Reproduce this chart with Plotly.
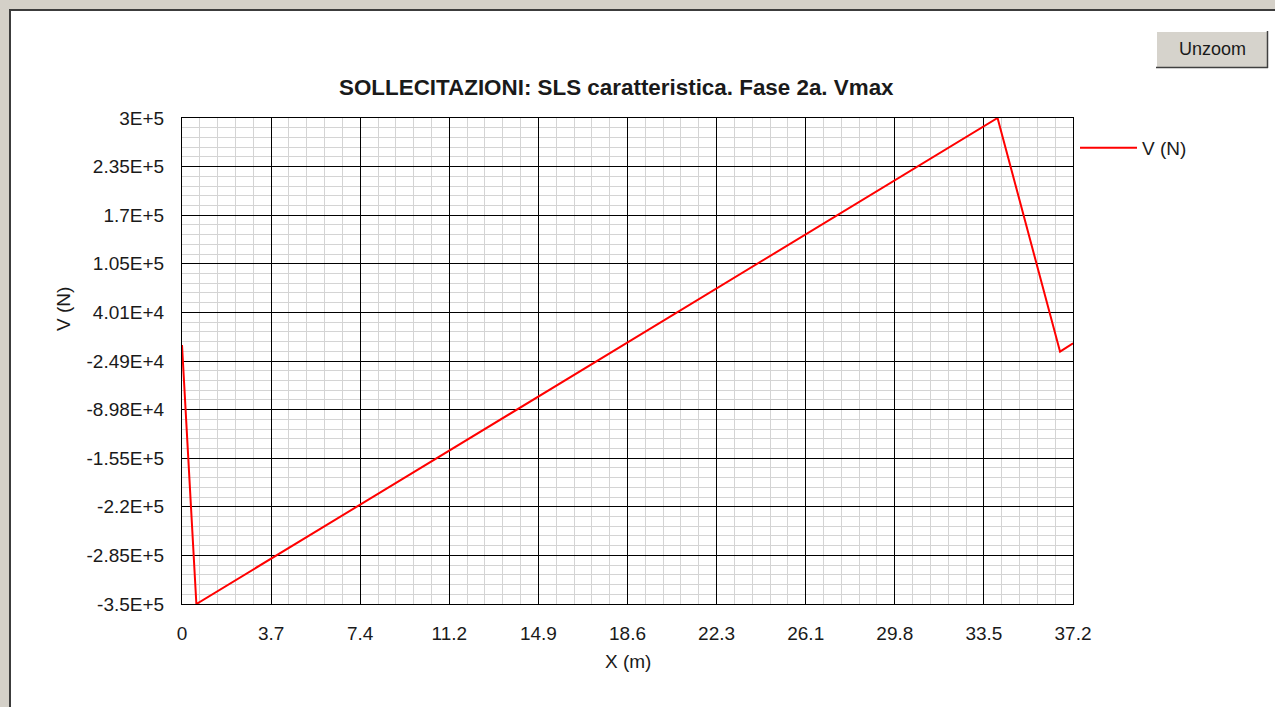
import plotly.graph_objects as go

# ---- data ----
x_m = [0.0, 0.6, 34.05, 36.66, 37.2]
v_n = [-3600, -350000, 300000, -12500, -1300]

x_tickvals = [0, 3.72, 7.44, 11.16, 14.88, 18.6, 22.32, 26.04, 29.76, 33.48, 37.2]
x_ticktext = ["0", "3.7", "7.4", "11.2", "14.9", "18.6", "22.3", "26.1", "29.8", "33.5", "37.2"]
y_tickvals = [-350000, -285000, -220000, -155000, -90000, -25000, 40000, 105000, 170000, 235000, 300000]
y_ticktext = ["-3.5E+5", "-2.85E+5", "-2.2E+5", "-1.55E+5", "-8.98E+4", "-2.49E+4",
              "4.01E+4", "1.05E+5", "1.7E+5", "2.35E+5", "3E+5"]

title_text = "SOLLECITAZIONI: SLS caratteristica. Fase 2a. Vmax"
series_name = "V (N)"
x_title = "X (m)"
y_title = "V (N)"
button_text = "Unzoom"

# ---- layout geometry (pixels) ----
W, H = 1275, 707
L, R, T, B = 182, 1073, 118, 604
PW, PH = R - L, B - T


def px(x):
    return (x - L) / PW


def py(y):
    return (B - y) / PH


FONT = "Liberation Sans, Arial, sans-serif"
TXT = "#1a1a1a"

fig = go.Figure()
fig.add_trace(go.Scatter(
    x=x_m, y=v_n, mode="lines", name=series_name,
    line=dict(color="#ff0000", width=2),
))

shapes = [
    # white panel with dark frame
    dict(type="rect", xref="paper", yref="paper", layer="below",
         x0=px(10), x1=px(1300), y0=py(10), y1=py(730),
         fillcolor="white", line=dict(color="#3c3c3c", width=2)),
    # button
    dict(type="rect", xref="paper", yref="paper",
         x0=px(1156), x1=px(1268), y0=py(31), y1=py(68),
         fillcolor="#d6d3cc", line=dict(width=0)),
    dict(type="line", xref="paper", yref="paper",
         x0=px(1156), x1=px(1268), y0=py(31.5), y1=py(31.5),
         line=dict(color="#ffffff", width=1)),
    dict(type="line", xref="paper", yref="paper",
         x0=px(1156.5), x1=px(1156.5), y0=py(31), y1=py(68),
         line=dict(color="#ffffff", width=1)),
    dict(type="line", xref="paper", yref="paper",
         x0=px(1156), x1=px(1268), y0=py(67.5), y1=py(67.5),
         line=dict(color="#404040", width=1.5)),
    dict(type="line", xref="paper", yref="paper",
         x0=px(1267.5), x1=px(1267.5), y0=py(31), y1=py(68),
         line=dict(color="#404040", width=1.5)),
]

annotations = [
    dict(text="<b>" + title_text + "</b>", xref="paper", yref="paper",
         x=px(616), y=py(88), showarrow=False, xanchor="center", yanchor="middle",
         font=dict(family=FONT, size=22.4, color=TXT)),
    dict(text=x_title, xref="paper", yref="paper",
         x=px(628), y=py(661), showarrow=False, xanchor="center", yanchor="middle",
         font=dict(family=FONT, size=19, color=TXT)),
    dict(text=y_title, xref="paper", yref="paper", textangle=-90,
         x=px(63), y=py(309), showarrow=False, xanchor="center", yanchor="middle",
         font=dict(family=FONT, size=19, color=TXT)),
    dict(text=button_text, xref="paper", yref="paper",
         x=px(1212), y=py(49), showarrow=False, xanchor="center", yanchor="middle",
         font=dict(family=FONT, size=18, color=TXT)),
]

fig.update_layout(
    width=W, height=H,
    margin=dict(l=L, r=W - R, t=T, b=H - B, pad=0),
    paper_bgcolor="#d4d0c8",
    plot_bgcolor="white",
    font=dict(family=FONT, size=19, color=TXT),
    shapes=shapes,
    annotations=annotations,
    showlegend=True,
    legend=dict(x=px(1075), y=py(129), xanchor="left", yanchor="top",
                bgcolor="rgba(0,0,0,0)", borderwidth=0, itemwidth=57,
                font=dict(family=FONT, size=19, color=TXT)),
)

fig.update_xaxes(
    range=[0, 37.2], tickmode="array", tickvals=x_tickvals, ticktext=x_ticktext,
    showgrid=True, gridcolor="#000000", gridwidth=1,
    showline=True, linecolor="#000000", linewidth=1, mirror=True,
    ticks="", ticklabelstandoff=12, zeroline=False, layer="below traces",
    minor=dict(tick0=0, dtick=0.744, showgrid=True, gridcolor="#d4d4d4", gridwidth=1.3),
    tickfont=dict(family=FONT, size=19, color=TXT),
)
fig.update_yaxes(
    range=[-350000, 300000], tickmode="array", tickvals=y_tickvals, ticktext=y_ticktext,
    showgrid=True, gridcolor="#000000", gridwidth=1,
    showline=True, linecolor="#000000", linewidth=1, mirror=True,
    ticks="", ticklabelstandoff=13, zeroline=False, layer="below traces",
    minor=dict(tick0=-350000, dtick=13000, showgrid=True, gridcolor="#d4d4d4", gridwidth=1.3),
    tickfont=dict(family=FONT, size=19, color=TXT),
)

fig.write_html("out.html")
